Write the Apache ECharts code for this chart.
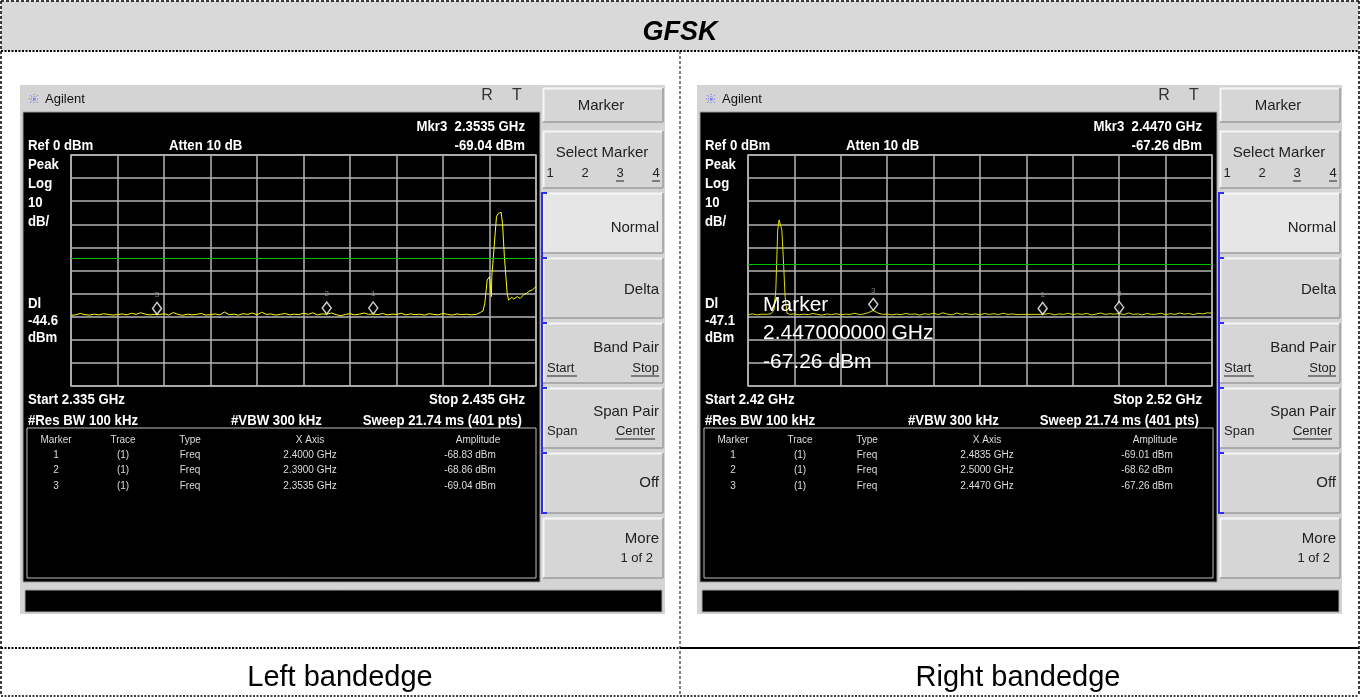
<!DOCTYPE html>
<html>
<head>
<meta charset="utf-8">
<title>GFSK bandedge</title>
<script src="https://cdn.jsdelivr.net/npm/echarts@6/dist/echarts.min.js"></script>
<style>
html, body { margin: 0; padding: 0; background: #fff; }
#main { width: 1360px; height: 697px; }
</style>
</head>
<body>
<div id="main"></div>
<script>
// Left bandedge - span in MHz
const leftStart = 2335;
const leftStop = 2435;
// noise floor, 1 MHz steps from leftStart (2335..2421)
const leftNoise = [
    -69.4, -69.2, -68.6, -69.1, -69.3, -68.9, -69.2, -68.7, -69.0, -69.3,
    -69.1, -68.8, -69.2, -68.5, -69.0, -68.3, -68.9, -69.2, -69.0, -69.1,
    -68.7, -69.3, -68.2, -69.0, -69.4, -68.9, -69.2, -69.0, -68.6, -69.3,
    -69.1, -68.8, -69.2, -68.0, -69.1, -68.9, -69.3, -68.7, -69.0, -68.4,
    -69.2, -68.1, -69.0, -68.8, -69.3, -69.0, -68.6, -69.2, -68.9, -69.1,
    -68.5, -69.0, -68.3, -69.2, -68.8, -68.9, -68.4, -69.1, -69.6, -69.0,
    -68.7, -69.2, -68.9, -68.4, -69.0, -68.8, -69.1, -68.6, -69.2, -68.9,
    -69.0, -68.5, -69.2, -68.8, -69.1, -68.9, -69.3, -68.7, -69.0, -69.2,
    -68.6, -69.0, -69.3, -68.8, -69.1, -68.9, -69.2
];
const leftPeakFreq = [2422.2, 2423.0, 2423.6, 2424.0, 2424.5, 2425.0, 2425.3, 2425.4, 2425.5, 2426.0,
    2426.5, 2426.9, 2427.5, 2427.8, 2428.2, 2428.8, 2429.1, 2429.8, 2430.2, 2431.0,
    2431.6, 2432.4, 2433.0, 2433.5, 2434.2, 2435.0];
const leftPeakLevel = [-69.0, -68.2, -67.5, -64.1, -54.1, -52.7, -53.5, -61.3, -52.5, -39.7,
    -26.7, -25.3, -24.8, -29.6, -44.0, -59.9, -62.8, -61.5, -62.4, -61.3,
    -62.1, -60.4, -59.9, -59.0, -58.4, -57.0];
const leftMarkerFreq = [2400.0, 2390.0, 2353.5];
const leftMarkerAmp = [-68.83, -68.86, -69.04];
const leftDisplayLine = -44.6;

// Right bandedge
const rightStart = 2420;
const rightStop = 2520;
const rightNoiseLow = [-69.1, -68.8, -69.2, -68.9, -69.0, -68.7];   // 2420..2425
const rightPeakFreq = [2425.6, 2426.0, 2426.2, 2426.4, 2426.7, 2427.0, 2427.3, 2427.7, 2428.0, 2428.4];
const rightPeakLevel = [-67.1, -58.4, -45.5, -32.5, -28.1, -27.7, -32.5, -48.4, -61.3, -68.5];
const rightNoiseHighStart = 2429;
const rightNoiseHigh = [
    -69.0, -68.8, -69.2, -68.9, -69.1, -68.6, -69.0, -69.3, -68.8, -69.1,
    -68.7, -69.2, -68.9, -69.0, -68.5, -69.1, -68.8, -68.2, -67.3, -68.4,
    -69.0, -68.8, -69.2, -68.9, -69.1, -68.6, -69.0, -68.8, -69.3, -68.7,
    -69.0, -68.5, -69.1, -68.3, -68.9, -69.2, -68.4, -69.0, -68.6, -69.1,
    -68.8, -69.2, -68.6, -69.0, -68.7, -69.1, -68.5, -69.0, -68.8, -69.1,
    -69.0, -69.0, -69.0, -69.0, -69.0, -68.9, -68.6, -69.2, -68.8, -69.0,
    -68.5, -69.1, -68.7, -69.0, -68.6, -69.2, -68.9, -68.4, -69.0, -68.7,
    -68.9, -68.6, -69.1, -68.4, -69.0, -68.8, -69.2, -68.6, -69.0, -68.9,
    -68.5, -69.1, -68.7, -69.0, -68.4, -68.9, -68.6, -69.1, -68.5, -68.8,
    -68.3, -68.5
];
const rightMarkerFreq = [2483.5, 2500.0, 2447.0];
const rightMarkerAmp = [-69.01, -68.62, -67.26];
const rightDisplayLine = -47.1;

// analyzer scale
const refLevel = 0;
const dbPerDiv = 10;
const markerNames = ['1', '2', '3'];
const softkeys = ['Normal', 'Delta', 'Band Pair', 'Span Pair', 'Off', 'More'];

const FONT = "'Liberation Sans', Arial, sans-serif";
const NARROW = 0.88; // squeeze bold labels like the analyzer's condensed font

function noisePoints(start, values) {
    return values.map((v, i) => [start + i, v]);
}
function pairPoints(freq, level) {
    return freq.map((f, i) => [f, level[i]]);
}

const leftTrace = noisePoints(leftStart, leftNoise).concat(pairPoints(leftPeakFreq, leftPeakLevel));
const rightTrace = noisePoints(rightStart, rightNoiseLow)
    .concat(pairPoints(rightPeakFreq, rightPeakLevel))
    .concat(noisePoints(rightNoiseHighStart, rightNoiseHigh));

// graphic helpers
function rect(x, y, w, h, fill, stroke, z, lw) {
    return { type: 'rect', silent: true, z: z, shape: { x: x, y: y, width: w, height: h },
        style: { fill: fill || 'none', stroke: stroke || null, lineWidth: lw || 1 } };
}
function line(x1, y1, x2, y2, color, w, z, dash) {
    return { type: 'line', silent: true, z: z, shape: { x1: x1, y1: y1, x2: x2, y2: y2 },
        style: { stroke: color, lineWidth: w, lineDash: dash || null } };
}
function txt(x, y, s, font, color, align, z, sx) {
    return { type: 'text', silent: true, x: x, y: y, z: z || 10, scaleX: sx || 1,
        style: { text: s, font: font, fill: color, align: align || 'left', verticalAlign: 'middle' } };
}
function button(x, y, w, h, fill) {
    return [
        rect(x, y, w, h, fill, null, -4),
        line(x, y + 0.5, x + w, y + 0.5, '#f6f6f6', 2, -3),
        line(x + 0.5, y, x + 0.5, y + h, '#f6f6f6', 2, -3),
        line(x, y + h, x + w, y + h, '#9c9c9c', 1.5, -3),
        line(x + w, y, x + w, y + h, '#9c9c9c', 1.5, -3)
    ];
}

function analyzer(dx, start, stop, mFreq, mAmp, dl) {
    const X = v => v + dx;
    const bold = 'bold 15px ' + FONT;
    const b = (x, y, s, align) => txt(X(x), y, s, bold, '#fff', align, 10, NARROW);
    const small = '10px ' + FONT;
    const key = '15px ' + FONT;
    const keySmall = '13px ' + FONT;
    let els = [];
    // panel + header
    els.push(rect(X(20), 85, 645, 529, '#d4d4d4', null, -10));
    // Agilent logo
    [[-5, 0, 5, 0], [0, -5, 0, 5], [-4, -4, 4, 4], [-4, 4, 4, -4]].forEach(s => {
        els.push(line(X(34 + s[0]), 99 + s[1], X(34 + s[2]), 99 + s[3], '#6a6af0', 1, 5, [1, 1]));
    });
    els.push(txt(X(45), 99, 'Agilent', '13px ' + FONT, '#111'));
    els.push(txt(X(487), 96, 'R', '16px ' + FONT, '#333', 'center'));
    els.push(txt(X(517), 96, 'T', '16px ' + FONT, '#333', 'center'));
    // display
    els.push(rect(X(23), 112, 517, 470, '#000', '#9a9a9a', -6));
    els.push(b(525, 127, 'Mkr3  ' + (mFreq[2] / 1000).toFixed(4) + ' GHz', 'right'));
    els.push(b(28, 146, 'Ref ' + refLevel + ' dBm'));
    els.push(b(169, 146, 'Atten 10 dB'));
    els.push(b(525, 146, mAmp[2].toFixed(2) + ' dBm', 'right'));
    [['Peak', 165], ['Log', 184], [String(dbPerDiv), 203], ['dB/', 222], ['Dl', 304],
        [dl.toFixed(1), 321], ['dBm', 338]].forEach(r => els.push(b(28, r[1], r[0])));
    els.push(b(28, 400, 'Start ' + (start / 1000) + ' GHz'));
    els.push(b(525, 400, 'Stop ' + (stop / 1000) + ' GHz', 'right'));
    els.push(b(28, 421, '#Res BW 100 kHz'));
    els.push(b(231, 421, '#VBW 300 kHz'));
    els.push(b(522, 421, 'Sweep 21.74 ms (401 pts)', 'right'));
    // marker table
    els.push(rect(X(27), 428, 509, 150, null, '#bdbdbd', -5, 1));
    const cols = [56, 123, 190, 310, 478];
    ['Marker', 'Trace', 'Type', 'X Axis', 'Amplitude'].forEach((h, i) =>
        els.push(txt(X(cols[i]), 440, h, small, '#dcdcdc', 'center')));
    markerNames.forEach((n, i) => {
        const y = 455 + i * 15.5;
        els.push(txt(X(cols[0]), y, n, small, '#dcdcdc', 'center'));
        els.push(txt(X(cols[1]), y, '(1)', small, '#dcdcdc', 'center'));
        els.push(txt(X(cols[2]), y, 'Freq', small, '#dcdcdc', 'center'));
        els.push(txt(X(cols[3]), y, (mFreq[i] / 1000).toFixed(4) + ' GHz', small, '#dcdcdc', 'center'));
        els.push(txt(X(470), y, mAmp[i].toFixed(2) + ' dBm', small, '#dcdcdc', 'center'));
    });
    // status bar
    els.push(rect(X(25), 590, 637, 22, '#000', '#a8a8a8', -6));
    // softkeys
    els = els.concat(button(X(543), 88, 120, 34, '#d6d6d6'));
    els.push(txt(X(601), 106, 'Marker', key, '#222', 'center'));
    els = els.concat(button(X(543), 131, 120, 57, '#d6d6d6'));
    els.push(txt(X(602), 153, 'Select Marker', key, '#222', 'center'));
    [['1', 550], ['2', 585], ['3', 620], ['4', 656]].forEach((d, i) => {
        els.push(txt(X(d[1]), 173, d[0], keySmall, '#222', 'center'));
        if (i >= 2) els.push(line(X(d[1] - 4), 181, X(d[1] + 4), 181, '#222', 1, 10));
    });
    const keyTop = [193, 258, 323, 388, 453, 518];
    keyTop.forEach((t, i) => {
        els = els.concat(button(X(543), t, 120, 60, i === 0 ? '#e6e6e6' : '#d6d6d6'));
    });
    els.push(txt(X(659), 228, softkeys[0], key, '#222', 'right'));
    els.push(txt(X(659), 290, softkeys[1], key, '#222', 'right'));
    els.push(txt(X(659), 348, softkeys[2], key, '#222', 'right'));
    els.push(txt(X(547), 368, 'Start', keySmall, '#222'));
    els.push(line(X(547), 376, X(577), 376, '#222', 1, 10));
    els.push(txt(X(659), 368, 'Stop', keySmall, '#222', 'right'));
    els.push(line(X(631), 376, X(659), 376, '#222', 1, 10));
    els.push(txt(X(659), 412, softkeys[3], key, '#222', 'right'));
    els.push(txt(X(547), 431, 'Span', keySmall, '#222'));
    els.push(txt(X(655), 431, 'Center', keySmall, '#222', 'right'));
    els.push(line(X(615), 439, X(655), 439, '#222', 1, 10));
    els.push(txt(X(659), 483, softkeys[4], key, '#222', 'right'));
    els.push(txt(X(659), 539, softkeys[5], key, '#222', 'right'));
    els.push(txt(X(653), 558, '1 of 2', keySmall, '#222', 'right'));
    // blue bracket
    els.push(line(X(542), 192, X(542), 514, '#2d2df5', 2, 6));
    keyTop.slice(0, 5).concat([513]).forEach(t => els.push(line(X(541), t, X(547), t, '#2d2df5', 2, 6)));
    return els;
}

function tableFrame() {
    const els = [];
    els.push(rect(1, 1, 1358, 50, '#d9d9d9', null, -20));
    els.push(line(1, 1, 1359, 1, '#000', 1.5, 1, [3, 2]));
    els.push(line(1, 1, 1, 696, '#000', 1.5, 1, [3, 2]));
    els.push(line(1359, 1, 1359, 696, '#000', 1.5, 1, [3, 2]));
    els.push(line(1, 696, 1359, 696, '#000', 1.5, 1, [2, 1.5]));
    els.push(line(1, 51, 1359, 51, '#000', 2, 1, [2, 1.5]));
    els.push(line(680, 51, 680, 696, '#000', 1, 1, [3, 2]));
    els.push(line(1, 648, 680, 648, '#000', 2, 1, [2, 1.5]));
    els.push(line(680, 648, 1359, 648, '#000', 2, 1));
    els.push(txt(680, 33, 'GFSK', 'italic bold 27px ' + FONT, '#000', 'center'));
    els.push(txt(340, 678, 'Left bandedge', '29px ' + FONT, '#000', 'center'));
    els.push(txt(1018, 678, 'Right bandedge', '29px ' + FONT, '#000', 'center'));
    return els;
}

function xAxisFor(idx, min, max) {
    return {
        type: 'value', gridIndex: idx, min: min, max: max, interval: 10,
        axisLabel: { show: false }, axisTick: { show: false },
        axisLine: { show: false },
        splitLine: { show: true, lineStyle: { color: '#b4b4b4', width: 1.5 } }
    };
}
function yAxisFor(idx) {
    return {
        type: 'value', gridIndex: idx, min: refLevel - 10 * dbPerDiv, max: refLevel, interval: dbPerDiv,
        axisLabel: { show: false }, axisTick: { show: false },
        axisLine: { show: false },
        splitLine: { show: true, lineStyle: { color: '#b4b4b4', width: 1.5 } }
    };
}
function traceSeries(idx, data, color, dl) {
    return {
        type: 'line', xAxisIndex: idx, yAxisIndex: idx, data: data,
        symbol: 'none', z: 3, silent: true,
        lineStyle: { color: color, width: 1 },
        markLine: {
            silent: true, symbol: 'none', label: { show: false },
            lineStyle: { color: '#00c000', width: 1, type: 'solid' },
            data: [{ yAxis: dl }]
        }
    };
}
function markerSeries(idx, freq, amp) {
    return {
        type: 'scatter', xAxisIndex: idx, yAxisIndex: idx, z: 4, silent: true,
        symbol: 'diamond', symbolSize: [9, 12], symbolOffset: [0, -6],
        itemStyle: { color: '#000', borderColor: '#fff', borderWidth: 1.5 },
        label: { show: true, position: 'top', distance: 3, color: '#a0a0a0', fontSize: 8,
            fontFamily: FONT, formatter: p => p.name },
        data: freq.map((f, i) => ({ name: markerNames[i], value: [f, amp[i]] }))
    };
}

function initChart() {
    const chart = echarts.init(document.getElementById('main'));
    const rdx = 677;
    let elements = tableFrame()
        .concat(analyzer(0, leftStart, leftStop, leftMarkerFreq, leftMarkerAmp, leftDisplayLine))
        .concat(analyzer(rdx, rightStart, rightStop, rightMarkerFreq, rightMarkerAmp, rightDisplayLine));
    // active marker readout on the right screen
    const big = '21px ' + FONT;
    elements.push(txt(763, 305, 'Marker', big, '#fff', 'left', 20));
    elements.push(txt(763, 333, (rightMarkerFreq[2] / 1000).toFixed(9) + ' GHz', big, '#fff', 'left', 20));
    elements.push(txt(763, 362, rightMarkerAmp[2].toFixed(2) + ' dBm', big, '#fff', 'left', 20));

    chart.setOption({
        backgroundColor: '#fff',
        animation: false,
        graphic: { elements: elements },
        grid: [
            { left: 71, top: 155, width: 465, height: 231, show: true, borderColor: '#b4b4b4', borderWidth: 1.5,
                backgroundColor: 'transparent', outerBoundsMode: 'none' },
            { left: 748, top: 155, width: 464, height: 231, show: true, borderColor: '#b4b4b4', borderWidth: 1.5,
                backgroundColor: 'transparent', outerBoundsMode: 'none' }
        ],
        xAxis: [xAxisFor(0, leftStart, leftStop), xAxisFor(1, rightStart, rightStop)],
        yAxis: [yAxisFor(0), yAxisFor(1)],
        series: [
            traceSeries(0, leftTrace, '#ffff00', leftDisplayLine),
            markerSeries(0, leftMarkerFreq, leftMarkerAmp),
            traceSeries(1, rightTrace, '#e0e000', rightDisplayLine),
            markerSeries(1, rightMarkerFreq, rightMarkerAmp)
        ]
    });
    window.addEventListener('resize', () => chart.resize());
}

document.addEventListener('DOMContentLoaded', initChart);
</script>
</body>
</html>
